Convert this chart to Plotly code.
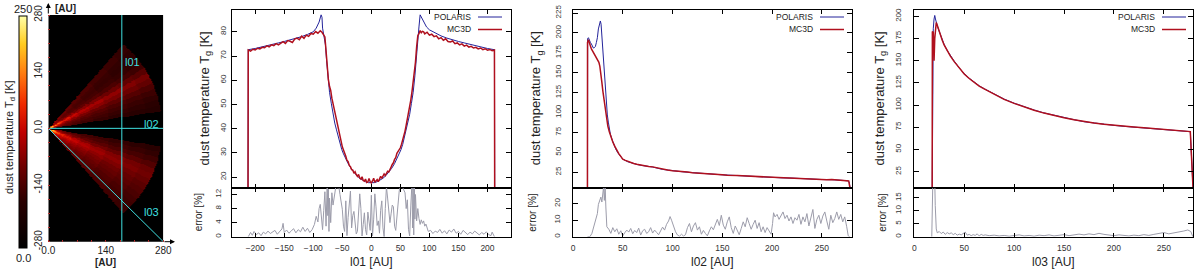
import numpy as np
import plotly.graph_objects as go

W, H = 1200, 271
FONT = "Liberation Sans, Arial, sans-serif"

# ---------------- data: cut l01 (vertical cut) ----------------
l01_x_polaris = [-212.5, -212, -200, -190, -180, -170, -160, -150, -140, -130, -120, -110, -100, -95, -90,
                 -86.5, -85, -84, -82, -79, -77, -75, -72, -69, -66, -63, -60, -57, -54, -51, -48, -45,
                 -40, -35, -30, -25, -20, -15, -10, -5, 0, 5, 10, 15, 20, 25, 30, 35, 40, 45, 48, 51, 54,
                 57, 60, 63, 66, 69, 72, 75, 77, 79, 81, 82, 84, 86, 90, 95, 100, 110, 120, 130, 140, 150,
                 160, 170, 180, 190, 200, 212, 212.5]
l01_t_polaris = [0, 72.6, 73.1, 73.6, 74.2, 74.8, 75.4, 76.0, 76.6, 77.3, 78.0, 78.9, 80.0, 81.5, 84.0,
                 87.0, 86.0, 81.5, 78.5, 74.5, 68.0, 61.5, 55.0, 50.5, 46.0, 42.3, 39.5, 36.5, 33.6, 31.4,
                 29.6, 28.0, 25.6, 23.6, 21.9, 20.6, 19.5, 18.7, 18.1, 17.7, 17.6, 17.7, 18.1, 18.7, 19.5,
                 20.6, 21.9, 23.6, 25.6, 27.9, 29.5, 31.3, 33.5, 36.4, 39.4, 42.2, 45.9, 50.4, 55.0, 61.8,
                 68.5, 74.8, 78.5, 82.0, 87.0, 86.0, 84.0, 82.0, 80.8, 79.4, 78.3, 77.4, 76.6, 76.0, 75.4,
                 74.8, 74.2, 73.6, 73.1, 72.6, 0]
l01_x_mc3d = [-212.5, -212, -208, -204, -200, -196, -192, -188, -184, -180, -176, -172, -168, -164, -160,
              -156, -152, -148, -144, -140, -136, -132, -128, -124, -120, -116, -112, -108, -104, -100,
              -96, -92, -88, -85, -82, -80, -78, -76, -74, -72, -70, -68, -66, -64, -62, -60, -58, -56,
              -54, -52, -50, -48, -46, -44, -42, -40, -38, -36, -34, -32, -30, -28, -26, -24, -22, -20,
              -18, -16, -14, -12, -10, -8, -6, -4, -2, 0, 2, 4, 6, 8, 10, 12, 14, 16, 18, 20, 22, 24, 26,
              28, 30, 32, 34, 36, 38, 40, 42, 44, 46, 48, 50, 52, 54, 56, 58, 60, 62, 64, 66, 68, 70, 72,
              74, 76, 78, 80, 82, 84, 86, 88, 90, 92, 96, 100, 104, 108, 112, 116, 120, 124, 128, 132,
              136, 140, 144, 148, 152, 156, 160, 164, 168, 172, 176, 180, 184, 188, 192, 196, 200, 204,
              208, 212, 212.5]
l01_t_mc3d = [0, 72.5, 72.0, 72.8, 72.5, 73.2, 72.9, 73.6, 73.4, 74.2, 73.8, 74.6, 74.3, 75.1, 74.6,
              75.4, 75.9, 75.2, 76.4, 76.1, 75.6, 77.0, 77.4, 76.7, 78.2, 77.3, 78.6, 78.1, 79.3, 79.0,
              80.1, 79.4, 80.4, 79.8, 78.7, 77.9, 72.0, 63.5, 60.2, 57.4, 55.8, 52.6, 50.4, 47.3, 46.1,
              42.5, 41.6, 39.2, 36.4, 34.8, 32.5, 31.2, 29.3, 28.6, 26.9, 26.4, 24.8, 24.3, 23.1, 22.9,
              21.6, 22.2, 21.0, 20.3, 21.1, 19.6, 19.2, 20.1, 18.6, 18.3, 19.2, 17.8, 18.0, 19.4, 18.1,
              17.6, 18.4, 19.5, 17.9, 18.3, 19.0, 18.1, 19.4, 20.3, 19.5, 20.8, 21.3, 20.6, 21.9, 22.4,
              22.1, 23.6, 24.1, 25.2, 25.9, 27.3, 28.0, 29.8, 30.6, 31.4, 32.1, 33.6, 35.2, 37.3, 39.0,
              41.5, 44.0, 45.6, 48.3, 51.9, 55.3, 58.7, 62.1, 67.5, 73.8, 78.4, 79.2, 80.5, 79.6, 80.2,
              80.0, 79.1, 79.8, 78.6, 79.0, 78.0, 78.3, 77.1, 77.6, 76.5, 77.1, 76.0, 75.8, 76.2, 75.1,
              75.4, 74.6, 75.0, 74.1, 74.5, 73.7, 74.0, 73.3, 73.6, 72.9, 73.3, 72.6, 73.0, 72.4, 72.7,
              72.2, 72.5, 0]
l01_x_err = [-212, -208, -205, -202, -198, -194, -190, -186, -182, -178, -174, -170, -166, -162, -158,
             -154, -152, -150, -146, -142, -138, -134, -130, -126, -122, -118, -114, -110, -106, -102,
             -98, -95, -92, -90, -88, -86, -84, -82, -80, -78, -76, -75, -74, -73, -72, -70, -68, -66,
             -64, -62, -60, -58, -56, -54, -52, -50, -48, -46, -44, -42, -40, -38, -36, -34, -32, -30,
             -28, -26, -24, -22, -20, -18, -16, -14, -12, -10, -8, -6, -4, -2, 0, 2, 4, 6, 8, 10, 12,
             14, 16, 18, 20, 22, 24, 26, 28, 30, 32, 34, 36, 38, 40, 42, 44, 46, 48, 50, 52, 54, 56,
             58, 60, 62, 64, 66, 68, 70, 71, 72, 73, 74, 75, 76, 78, 80, 82, 84, 86, 88, 90, 92, 94,
             96, 98, 102, 106, 110, 114, 118, 122, 126, 130, 134, 138, 142, 146, 150, 154, 158, 162,
             166, 170, 174, 178, 182, 186, 190, 194, 198, 202, 206, 208, 212]
l01_err = [0, 1.2, 0.4, 1.5, 0.6, 1.1, 0.3, 1.3, 0.8, 1.6, 0.9, 1.4, 1.8, 0.7, 1.5, 2.2, 3.8, 1.2,
           1.9, 1.0, 1.6, 2.3, 1.1, 2.0, 1.4, 2.7, 1.5, 2.4, 1.2, 2.0, 3.5, 5.8, 4.2, 8.0, 9.2, 4.5,
           2.0, 7.5, 12.8, 3.0, 15.5, 6.0, 13.5, 1.5, 11.0, 4.0, 12.5, 9.0, 11.5, 14.5, 15.5, 13.8,
           14.2, 12.0, 9.5, 7.8, 3.0, 1.5, 10.2, 0.3, 5.5, 9.0, 13.0, 2.5, 6.0, 7.2, 3.0, 0.8, 1.5,
           6.5, 12.2, 8.0, 0.2, 3.5, 6.8, 2.0, 0.5, 7.0, 3.2, 1.8, 11.8, 0.2, 5.0, 12.2, 8.5, 3.2,
           4.5, 1.0, 7.5, 10.2, 2.5, 0.0, 8.0, 14.2, 11.0, 7.2, 4.0, 6.5, 9.0, 8.5, 3.0, 1.8, 6.0,
           10.5, 13.0, 14.5, 15.5, 14.0, 13.2, 12.5, 8.0, 10.5, 2.0, 0.2, 9.0, 15.5, 2.5, 13.8, 0.5,
           15.5, 5.0, 12.0, 4.5, 8.0, 5.2, 3.5, 4.8, 3.8, 4.5, 3.0, 3.6, 2.2, 1.5, 1.8, 0.9, 1.6,
           1.2, 2.1, 1.0, 1.7, 0.8, 1.9, 1.3, 2.2, 1.0, 1.5, 0.7, 1.8, 1.1, 0.6, 1.3, 0.8, 1.6, 0.9,
           0.5, 1.2, 0.7, 1.4, 0.6, 0.3, 1.3, 0]

# ---------------- data: cut l02 (midplane) ----------------
l02_x_polaris = [14.6, 14.7, 15.5, 16.5, 17.5, 18.5, 19.5, 20.5, 21.5, 22.5, 23.5, 24.5, 25.5, 26.5,
                 27.5, 28.2, 29, 29.8, 30.5, 31.3, 32, 32.8, 33.5, 34.5, 35.5, 36.5, 37.5, 39, 41, 43,
                 45, 47, 50, 55, 60, 65, 70, 80, 90, 100, 110, 120, 130, 140, 150, 160, 170, 180, 190,
                 200, 210, 220, 230, 240, 250, 260, 270, 276, 277.5, 279]
l02_t_polaris = [0, 193, 194, 190, 188, 186, 183, 181, 181.5, 183, 188, 194, 205, 213, 215, 211, 196,
                 180, 160, 145, 130, 116, 106, 97, 88, 80, 73, 67, 60, 54, 49.5, 46, 41.5, 38.2, 36.0,
                 34.6, 33.4, 31.6, 28.6, 26.9, 25.6, 24.6, 23.4, 22.6, 21.8, 21.2, 20.4, 20.0, 19.1, 18.9,
                 18.0, 17.7, 16.9, 16.7, 15.9, 15.7, 14.8, 14.4, 13.0, 0]
l02_x_mc3d = [14.5, 14.6, 15.5, 16.5, 17.5, 18.5, 20, 21.5, 23, 24.5, 26, 27, 28, 29, 30, 31, 32, 33, 34,
              35, 36.5, 38, 40, 42, 44, 46, 48, 50, 52, 55, 58, 61, 64, 68, 72, 76, 80, 85, 90, 95, 100,
              105, 110, 115, 120, 125, 130, 135, 140, 145, 150, 155, 160, 165, 170, 175, 180, 185, 190,
              195, 200, 205, 210, 215, 220, 225, 230, 235, 240, 245, 250, 255, 260, 265, 270, 275, 277,
              279]
l02_t_mc3d = [0, 188, 191.5, 186, 183.5, 180, 176.5, 173, 170, 167, 163, 158, 150, 138, 127, 117, 106, 97,
              90, 83, 76, 69, 63, 57.5, 52.5, 48.5, 45.0, 41.5, 40.2, 38.5, 37.3, 36.0, 35.2, 34.0, 33.3,
              32.4, 31.8, 30.2, 28.9, 27.8, 26.8, 26.6, 25.9, 25.3, 24.5, 24.2, 23.2, 23.4, 22.4, 22.9,
              21.8, 21.4, 21.6, 20.9, 20.5, 20.2, 20.3, 19.6, 19.2, 18.8, 19.3, 18.4, 18.1, 17.6, 17.8,
              17.2, 16.9, 16.5, 16.8, 16.2, 15.8, 15.6, 15.9, 15.2, 14.9, 14.6, 14.2, 0]
l02_x_err = [14.6, 17, 19, 21, 23, 24.5, 25.5, 27, 28, 29, 30, 30.7, 31.5, 32.3, 33, 34, 36, 38, 40,
             42, 44, 46, 48, 50, 52, 54, 56, 58, 60, 62, 64, 66, 68, 70, 72, 74, 76, 78, 80, 82, 84, 86,
             88, 90, 92, 94, 96, 97.5, 99, 101, 103, 105, 107, 109, 111, 113, 115, 117, 119, 121, 123,
             125, 127, 129, 131, 133, 135, 137, 139, 141, 143, 145, 147, 149, 151, 153, 155, 157, 159,
             161, 163, 165, 167, 169, 171, 173, 175, 177, 179, 181, 183, 185, 187, 189, 191, 193, 195,
             197, 199, 200.5, 201.5, 203, 205, 207, 209, 211, 213, 215, 217, 219, 221, 223, 225, 227,
             229, 231, 233, 235, 237, 239, 241, 243, 245, 247, 249, 251, 253, 255, 257, 259, 261, 263,
             265, 267, 269, 271, 273, 275, 276.5, 278]
l02_err = [0, 0, 2, 6, 10, 14, 19.5, 22, 24, 21, 27, 30, 22, 31, 18, 6, 4.5, 2.0, 5.5, 3.0, 4.8, 1.5,
           3.6, 0.5, 2.4, 4.0, 2.8, 5.0, 1.8, 3.8, 2.5, 5.2, 1.0, 3.6, 4.5, 2.0, 3.0, 5.5, 2.2, 4.0,
           2.6, 1.2, 3.5, 5.8, 4.0, 7.5, 9.5, 12.2, 10.0, 6.5, 3.0, 1.0, 0.3, 1.5, 0.4, 1.2, 5.5, 8.0,
           3.0, 6.5, 8.5, 4.0, 6.0, 1.5, 3.8, 2.0, 0.5, 3.5, 6.0, 4.2, 8.0, 10.5, 6.8, 13.0, 7.0,
           4.5, 9.0, 12.0, 5.5, 2.0, 6.5, 3.5, 1.2, 5.0, 9.0, 6.0, 11.5, 8.0, 4.5, 7.5, 10.0, 5.0,
           8.5, 3.0, 6.0, 2.5, 5.5, 3.5, 1.5, 8.0, 14.5, 12.0, 13.5, 10.5, 12.5, 15.0, 11.0, 13.0,
           9.5, 12.0, 8.0, 11.5, 10.0, 13.5, 7.5, 12.0, 9.0, 14.0, 6.5, 11.0, 16.5, 5.0, 10.5, 13.0,
           8.0, 12.5, 15.0, 9.5, 4.5, 13.0, 8.5, 11.0, 15.0, 10.5, 13.5, 9.0, 12.0, 6.0, 0.5, 0]

# ---------------- data: cut l03 (diagonal) ----------------
l03_x_polaris = [17.9, 18.3, 19.0, 19.8, 20.5, 21.2, 22, 23, 24.5, 26, 28, 30, 33, 36, 40, 45, 50, 55,
                 60, 65, 70, 80, 90, 100, 110, 120, 130, 140, 150, 160, 170, 180, 190, 200, 210, 220,
                 230, 240, 250, 260, 270, 276.5, 279.5]
l03_t_polaris = [0, 168, 186, 197, 201, 197, 193, 189.5, 184.5, 179.5, 173.5, 168, 161.5, 156, 149.5, 142,
                 135.5, 130.3, 125.8, 121.8, 118.5, 112.4, 106.8, 102.2, 98.1, 94.5, 91.2, 88.4, 85.9,
                 83.6, 81.3, 79.7, 78.4, 77.2, 76.1, 75.2, 74.3, 73.5, 72.6, 71.8, 70.9, 70.1, 0]
l03_x_mc3d = [17.9, 18.1, 19.0, 19.8, 20.5, 21.3, 22, 23, 24.5, 26, 28, 30, 33, 36, 40, 45, 50, 55, 60,
              65, 70, 80, 90, 100, 110, 120, 130, 140, 150, 160, 170, 180, 190, 200, 210, 220, 230, 240,
              250, 260, 270, 276.5, 279.5]
l03_t_mc3d = [0, 183, 182, 150, 175, 192, 193, 190, 184, 179, 173, 167.5, 161, 155.5, 149, 141.5, 135,
              130, 125.5, 121.5, 118.2, 112, 106.5, 102, 97.8, 94.2, 91, 88.2, 85.8, 83.5, 81.4, 79.8,
              78.5, 77.3, 76.3, 75.4, 74.6, 73.7, 72.8, 71.9, 71.0, 70.2, 0]
l03_x_err = [17.5, 18, 18.5, 19.5, 20.3, 21, 22, 23, 25, 27, 29, 31, 33, 35, 37, 39, 41, 43, 45, 47,
             49, 51, 53, 55, 57, 59, 61, 63, 65, 67, 69, 71, 75, 80, 85, 90, 95, 100, 105, 110, 115,
             120, 125, 130, 135, 140, 145, 150, 155, 160, 165, 170, 175, 180, 185, 190, 195, 200, 205,
             210, 215, 220, 225, 230, 235, 240, 245, 250, 255, 260, 265, 270, 274, 277, 279]
l03_err = [0, 8, 20, 20, 25, 12, 3, 1.5, 2.0, 1.2, 1.8, 0.9, 1.6, 1.1, 1.5, 0.8, 1.3, 0.6, 1.0, 0.7,
           1.4, 1.8, 0.6, 0.9, 0.4, 0.8, 0.5, 1.1, 0.3, 0.9, 0.5, 0.7, 0.4, 0.6, 0.3, 0.5, 0.2, 0.4,
           0.7, 0.3, 0.5, 0.2, 0.6, 0.4, 0.7, 0.3, 0.5, 0.8, 0.4, 0.6, 1.0, 0.7, 1.1, 0.8, 1.3, 0.9,
           0.6, 0.4, 0.7, 0.5, 0.3, 0.6, 0.4, 0.8, 0.5, 0.9, 1.2, 1.6, 1.1, 1.4, 1.8, 2.2, 2.6, 2.0, 0]

# ---------------- data: temperature map (read per angular band and radial ring) ----------------
map_angle_edges_deg = [-90, -49, -45, -42, -39, -36, -33, -30, -27, -24, -21, -18, -15, -12, -9,
                       9, 12, 15, 18, 21, 24, 27, 30, 33, 36, 39, 42, 45, 49, 90]
map_band_temp_K = [0, 78, 80, 84, 90, 96, 102, 110, 118, 112, 96, 82, 72, 64,
                   0,
                   60, 66, 72, 80, 92, 108, 120, 100, 80, 70, 66, 68, 74, 0]
map_radius_edges_au = [0, 5, 10, 15, 20, 30, 40, 60, 80, 110, 150, 200, 240, 277, 500]
map_radial_factor = [0.3, 2.2, 1.9, 1.65, 1.45, 1.3, 1.18, 1.08, 1.0, 0.93, 0.86, 0.8, 0.75, 0]
map_cell_au = 2
map_extent_au = 280
cut_l01_x_au = 179
cut_names = ["l01", "l02", "l03"]
cut_lines_x = [[cut_l01_x_au, cut_l01_x_au], [0, 280], [0, 280]]
cut_lines_y = [[-280, 280], [0, 0], [0, -280]]
cut_label_x = [182, 227, 227]
cut_label_y = [165, 11, -206]

# ---------------- helpers ----------------
def fx(p):
    return p / W

def fy(p):
    return 1 - p / H

BLUE = "#23239a"
RED = "#b0101e"
GRAY = "#9c9caa"
CYAN = "#3fe0e0"

fig = go.Figure()

# ----- temperature map -----
xs = np.arange(map_cell_au / 2, map_extent_au, map_cell_au)
ys = np.arange(-map_extent_au + map_cell_au / 2, map_extent_au, map_cell_au)
XX, YY = np.meshgrid(xs, ys)
RR = np.hypot(XX, YY)
TH = np.degrees(np.arctan2(YY, XX))
ai = np.clip(np.digitize(TH, map_angle_edges_deg) - 1, 0, len(map_band_temp_K) - 1)
ri = np.clip(np.digitize(RR, map_radius_edges_au) - 1, 0, len(map_radial_factor) - 1)
ZZ = np.array(map_band_temp_K, dtype=float)[ai] * np.array(map_radial_factor)[ri]

colorscale = [[0.0, "#000000"], [0.2, "#2a0000"], [0.35, "#6e0000"], [0.5, "#c00000"],
              [0.62, "#f02a00"], [0.75, "#ff7a10"], [0.88, "#ffcc20"], [1.0, "#ffffa8"]]

fig.add_trace(go.Heatmap(
    x=xs, y=ys, z=ZZ, zmin=0, zmax=250, colorscale=colorscale, xaxis="x", yaxis="y",
    zsmooth="best", hoverinfo="skip",
    colorbar=dict(x=fx(19.3), xanchor="left", y=fy(132.5), yanchor="middle",
                  len=(248.3 - 16.7) / H, lenmode="fraction", thickness=8, thicknessmode="pixels",
                  xpad=0, ypad=0, outlinewidth=1, outlinecolor="black",
                  showticklabels=False, ticks="")))

for i in range(3):
    fig.add_trace(go.Scatter(x=cut_lines_x[i], y=cut_lines_y[i], mode="lines",
                             line=dict(color=CYAN, width=1), xaxis="x", yaxis="y",
                             showlegend=False, hoverinfo="skip"))

# ----- line panels -----
panels = [
    (l01_x_polaris, l01_t_polaris, l01_x_mc3d, l01_t_mc3d, l01_x_err, l01_err),
    (l02_x_polaris, l02_t_polaris, l02_x_mc3d, l02_t_mc3d, l02_x_err, l02_err),
    (l03_x_polaris, l03_t_polaris, l03_x_mc3d, l03_t_mc3d, l03_x_err, l03_err),
]
for k, (xp, tp, xm, tm, xe, ee) in enumerate(panels):
    xa_main, ya_main = "x%d" % (2 + 2 * k), "y%d" % (2 + 2 * k)
    xa_err, ya_err = "x%d" % (3 + 2 * k), "y%d" % (3 + 2 * k)
    fig.add_trace(go.Scatter(x=xp, y=tp, mode="lines", name="POLARIS",
                             line=dict(color=BLUE, width=1), xaxis=xa_main, yaxis=ya_main,
                             showlegend=False))
    fig.add_trace(go.Scatter(x=xm, y=tm, mode="lines", name="MC3D",
                             line=dict(color=RED, width=1.5), xaxis=xa_main, yaxis=ya_main,
                             showlegend=False))
    fig.add_trace(go.Scatter(x=xe, y=ee, mode="lines", name="error",
                             line=dict(color=GRAY, width=1), xaxis=xa_err, yaxis=ya_err,
                             showlegend=False))

# ----- axes -----
layout = dict(
    width=W, height=H, margin=dict(l=0, r=0, t=0, b=0, pad=0, autoexpand=False),
    paper_bgcolor="white", plot_bgcolor="white",
    font=dict(family=FONT, color="#222"), showlegend=False,
)

tick_font_x = dict(family=FONT, size=8.5, color="#333")
tick_font_y = dict(family=FONT, size=8, color="#333")

layout["xaxis"] = dict(domain=[fx(48.3), fx(163.3)], range=[0, 280], anchor="y", automargin=False,
                       tickvals=[0, 140, 280], ticktext=["0.0", "140", "280"], ticks="",
                       showgrid=False, zeroline=False, showline=False,
                       tickfont=dict(family=FONT, size=10, color="#222"), ticklabelstandoff=1,
                       minor=dict(ticks="inside", ticklen=2, tickcolor="#b03030", dtick=35))
layout["yaxis"] = dict(domain=[fy(241.7), fy(15)], range=[-280, 280], anchor="x", automargin=False,
                       tickvals=[-280, -140, 0, 140, 280], ticktext=["-280", "-140", "0.0", "140", "280"],
                       ticks="", tickangle=-90, showgrid=False, zeroline=False, showline=False,
                       tickfont=dict(family=FONT, size=10, color="#222"), ticklabelstandoff=3,
                       minor=dict(ticks="inside", ticklen=2, tickcolor="#b03030", dtick=35))

panel_x = [(231.7, 511.0), (573.0, 851.7), (914.3, 1193.3)]
x_ranges = [[-240.5, 240.5], [0, 280], [0, 279.5]]
x_ticks = [list(range(-200, 201, 50)), list(range(0, 251, 50)), list(range(0, 251, 50))]
main_ranges = [[15.7, 89.2], [5.9, 229.4], [7.2, 207.7]]
main_ticks = [list(range(20, 81, 10)), list(range(25, 226, 25)), list(range(25, 201, 25))]
err_ranges = [[0, 14], [0, 29.8], [0, 19]]
err_ticks = [[0, 4, 8, 12], [0, 10, 20], [0, 5, 10, 15]]
main_standoff = [2, 8, 9]
err_standoff = [7, 9, 9]

common = dict(showgrid=False, zeroline=False, showline=True, linecolor="black", linewidth=1,
              mirror="ticks", ticks="inside", tickcolor="black", tickwidth=1, automargin=False)

for k in range(3):
    x0, x1 = panel_x[k]
    n_mx, n_my, n_ex, n_ey = 2 + 2 * k, 2 + 2 * k, 3 + 2 * k, 3 + 2 * k
    layout["xaxis%d" % n_mx] = dict(common, domain=[fx(x0), fx(x1)], range=x_ranges[k],
                                    anchor="y%d" % n_my, tickvals=x_ticks[k], ticklen=4,
                                    showticklabels=False)
    layout["yaxis%d" % n_my] = dict(common, domain=[fy(187.5), fy(9.5)], range=main_ranges[k],
                                    anchor="x%d" % n_mx, tickvals=main_ticks[k], ticklen=5,
                                    tickangle=-90, tickfont=tick_font_y,
                                    ticklabelstandoff=main_standoff[k])
    layout["xaxis%d" % n_ex] = dict(common, domain=[fx(x0), fx(x1)], range=x_ranges[k],
                                    anchor="y%d" % n_ey, tickvals=x_ticks[k], ticklen=4,
                                    tickfont=tick_font_x, ticklabelstandoff=3)
    layout["yaxis%d" % n_ey] = dict(common, domain=[fy(236.7), fy(187.5)], range=err_ranges[k],
                                    anchor="x%d" % n_ex, tickvals=err_ticks[k], ticklen=5,
                                    tickangle=-90, tickfont=tick_font_y,
                                    ticklabelstandoff=err_standoff[k])

fig.update_layout(**layout)

# ----- annotations -----
ann = []
def text(x, y, s, size, angle=0, xanchor="center", yanchor="middle", color="#222", xref="paper", yref="paper"):
    ann.append(dict(x=x, y=y, xref=xref, yref=yref, text=s, showarrow=False, textangle=angle,
                    xanchor=xanchor, yanchor=yanchor, font=dict(family=FONT, size=size, color=color)))

# map panel texts
text(fx(10), fy(137), "dust temperature T<sub>d</sub> [K]", 11, angle=-90)
text(fx(23), fy(9.5), "250", 11)
text(fx(23), fy(257.5), "0.0", 11)
text(fx(53), fy(8.5), "<b>[AU]</b>", 10, xanchor="left")
text(fx(105), fy(262), "<b>[AU]</b>", 10)
for i in range(3):
    text(cut_label_x[i], cut_label_y[i], cut_names[i], 11, xanchor="left", color=CYAN, xref="x", yref="y")
# axis arrows
ann.append(dict(x=fx(48.3), y=fy(3), xref="paper", yref="paper", ax=0, ay=12, text="",
                showarrow=True, arrowhead=2, arrowsize=1, arrowwidth=1, arrowcolor="black"))
ann.append(dict(x=fx(175), y=fy(241.7), xref="paper", yref="paper", ax=-12, ay=0, text="",
                showarrow=True, arrowhead=2, arrowsize=1, arrowwidth=1, arrowcolor="black"))

main_title_x = [205, 536.7, 880]
err_title_x = [198.3, 531.7, 881.7]
for k in range(3):
    x0, x1 = panel_x[k]
    text(fx(main_title_x[k]), fy(98.5), "dust temperature T<sub>g</sub> [K]", 13, angle=-90)
    text(fx(err_title_x[k]), fy(212), "error [%]", 10, angle=-90)
    text(fx((x0 + x1) / 2), fy(261.5), "%s [AU]" % cut_names[k], 12)

# legends (gnuplot style: text then sample line)
legend_text_right = [473, 815, 1157]
shapes = []
for k in range(3):
    xr = legend_text_right[k]
    for j, (name, col, wd) in enumerate([("POLARIS", BLUE, 1), ("MC3D", RED, 1.5)]):
        yy = 17 + 12.5 * j
        text(fx(xr), fy(yy), name, 8.5, xanchor="right", color="#222")
        shapes.append(dict(type="line", xref="paper", yref="paper", x0=fx(xr + 5), x1=fx(xr + 29),
                           y0=fy(yy), y1=fy(yy), line=dict(color=col, width=wd)))

fig.update_layout(annotations=ann, shapes=shapes)

fig.write_html("out.html", config={"displayModeBar": False},
               post_script="document.body.style.margin='0px';document.body.style.overflow='hidden';")
